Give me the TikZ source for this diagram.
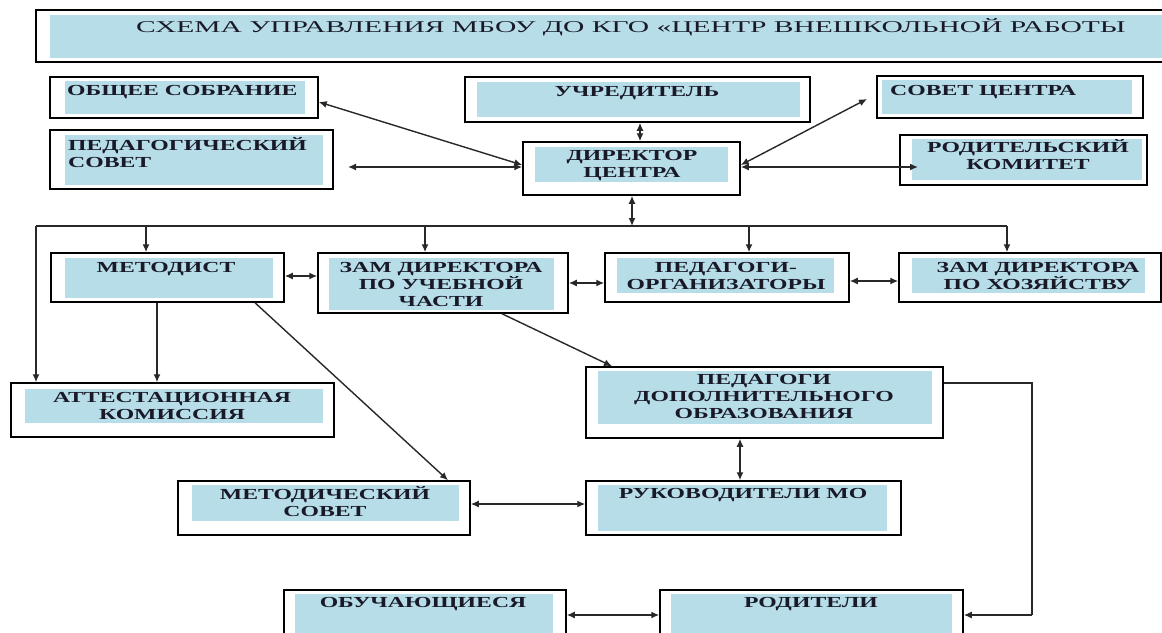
\documentclass[tikz,border=0pt]{standalone}
\usepackage{fontspec}
\setmainfont{Liberation Serif}
\newfontfamily\lblfont[FakeStretch=1.55]{Liberation Serif}
\newfontfamily\ttlfont[FakeStretch=1.79]{Liberation Serif}
\usetikzlibrary{arrows.meta}
\definecolor{boxblue}{RGB}{183,221,232}
\definecolor{lineg}{RGB}{40,40,40}
\definecolor{txt}{RGB}{25,25,40}
\tikzset{
  obox/.style={draw=black, line width=1.5pt, fill=white, inner sep=0pt},
  conn/.style={draw=lineg, line width=1.4pt},
  ah/.tip={Latex[length=8pt,width=7pt]},
  ar/.style={conn, -ah},
  dar/.style={conn, ah-ah},
  lbl/.style={font=\lblfont\bfseries\fontsize{15.3}{17}\selectfont, inner sep=0pt, align=center, text=txt},
  ttl/.style={font=\ttlfont\fontsize{16.5}{20}\selectfont, inner sep=0pt, text=txt},
}
\newcommand\ubox[9]{%
  \node[obox, minimum width={#4-#2}, minimum height={#5-#3}] (#1) at ({(#2+#4)/2},{(#3+#5)/2}) {};
  \fill[boxblue] (#6,#7) rectangle (#8,#9);}
\begin{document}
\begin{tikzpicture}[x=1pt,y=-1pt]
\useasboundingbox (0,0) rectangle (1162,632);
\clip (0,0) rectangle (1162,632);
% boxes
\ubox{title}{36}{10}{1175}{62}{50}{15}{1175}{58}
\ubox{obs}{50}{77}{318}{118}{65}{81}{305}{114}
\ubox{ped}{50}{130}{333}{189}{65}{135}{323}{185}
\ubox{uch}{465}{77}{810}{122}{477}{82}{800}{117}
\ubox{dir}{523}{142}{740}{195}{535}{147}{728}{182}
\ubox{sov}{877}{76}{1143}{118}{882}{80}{1132}{114}
\ubox{rod}{900}{135}{1147}{185}{912}{139}{1142}{180}
\ubox{met}{51}{253}{284}{302}{65}{258}{273}{298}
\ubox{zam}{318}{253}{568}{313}{329}{258}{554}{310}
\ubox{porg}{605}{253}{849}{302}{617}{258}{834}{293}
\ubox{zhoz}{899}{253}{1161}{302}{912}{258}{1145}{293}
\ubox{att}{11}{383}{334}{437}{25}{389}{323}{423}
\ubox{pdop}{586}{367}{943}{438}{598}{371}{932}{424}
\ubox{msov}{178}{481}{470}{535}{192}{485}{459}{521}
\ubox{ruk}{586}{481}{901}{535}{598}{485}{887}{531}
\ubox{obu}{284}{590}{566}{650}{295}{594}{553}{650}
\ubox{rodi}{660}{590}{963}{650}{671}{594}{952}{650}
% texts (anchor=base is the baseline of the last line)
\node[ttl, anchor=base] (ttitle) at (631,32) {СХЕМА УПРАВЛЕНИЯ МБОУ ДО КГО «ЦЕНТР ВНЕШКОЛЬНОЙ РАБОТЫ};
\node[lbl, anchor=base west] (tobs) at (67,95) {ОБЩЕЕ СОБРАНИЕ};
\node[lbl, anchor=base west, align=left] (tped) at (68,167) {ПЕДАГОГИЧЕСКИЙ\\СОВЕТ};
\node[lbl, anchor=base] (tuch) at (637,96) {УЧРЕДИТЕЛЬ};
\node[lbl, anchor=base] (tdir) at (632,177) {ДИРЕКТОР\\ЦЕНТРА};
\node[lbl, anchor=base west] (tsov) at (890,95) {СОВЕТ ЦЕНТРА};
\node[lbl, anchor=base] (trod) at (1028,169) {РОДИТЕЛЬСКИЙ\\КОМИТЕТ};
\node[lbl, anchor=base] (tmet) at (166,272) {МЕТОДИСТ};
\node[lbl, anchor=base] (tzam) at (441,306) {ЗАМ ДИРЕКТОРА\\ПО УЧЕБНОЙ\\ЧАСТИ};
\node[lbl, anchor=base] (tporg) at (726,289) {ПЕДАГОГИ-\\ОРГАНИЗАТОРЫ};
\node[lbl, anchor=base] (tzhoz) at (1038,289) {ЗАМ ДИРЕКТОРА\\ПО ХОЗЯЙСТВУ};
\node[lbl, anchor=base] (tatt) at (172,419) {АТТЕСТАЦИОННАЯ\\КОМИССИЯ};
\node[lbl, anchor=base] (tpdop) at (764,418) {ПЕДАГОГИ\\ДОПОЛНИТЕЛЬНОГО\\ОБРАЗОВАНИЯ};
\node[lbl, anchor=base] (tmsov) at (325,516) {МЕТОДИЧЕСКИЙ\\СОВЕТ};
\node[lbl, anchor=base] (truk) at (743,498) {РУКОВОДИТЕЛИ МО};
\node[lbl, anchor=base] (tobu) at (423,607) {ОБУЧАЮЩИЕСЯ};
\node[lbl, anchor=base] (trodi) at (811,607) {РОДИТЕЛИ};
% free-end coordinates
\coordinate (pedL) at (348,167);
\coordinate (sovP) at (867,99);
\coordinate (rodP) at (918,167);
\coordinate (busL) at (36,226);
\coordinate (busR) at (1007,226);
\coordinate (busD) at (632,226);
\coordinate (cR1) at (1032,383);
\coordinate (cR2) at (1032,615);
% connectors around director
\draw[dar] (dir.west |- 0,165) -- (obs.east |- 0,102);
\draw[dar] (pedL) -- (dir.west |- 0,167);
\draw[dar] (640,0 |- uch.south) -- (640,0 |- dir.north);
\draw[dar] (dir.east |- 0,165) -- (sovP);
\draw[dar] (dir.east |- 0,167) -- (rodP);
\draw[dar] (632,0 |- dir.south) -- (busD);
% bus
\draw[conn] (busL) -- (busR);
\draw[ar] (busL) -- (36,0 |- att.north);
\draw[ar] (146,226) -- (146,0 |- met.north);
\draw[ar] (425,226) -- (425,0 |- zam.north);
\draw[ar] (749,226) -- (749,0 |- porg.north);
\draw[ar] (busR) -- (1007,0 |- zhoz.north);
% middle row
\draw[dar] (met.east |- 0,276) -- (zam.west |- 0,276);
\draw[dar] (zam.east |- 0,283) -- (porg.west |- 0,283);
\draw[dar] (porg.east |- 0,281) -- (zhoz.west |- 0,281);
% lower
\draw[ar] (157,0 |- met.south) -- (157,0 |- att.north);
\draw[ar] (255,0 |- met.south) -- (448,0 |- msov.north);
\draw[ar] (502,0 |- zam.south) -- (612,0 |- pdop.north);
\draw[dar] (740,0 |- pdop.south) -- (740,0 |- ruk.north);
\draw[dar] (msov.east |- 0,504) -- (ruk.west |- 0,504);
\draw[conn] (pdop.east |- cR1) -- (cR1) -- (cR2);
\draw[ar] (cR2) -- (rodi.east |- cR2);
\draw[dar] (obu.east |- 0,615) -- (rodi.west |- 0,615);
\end{tikzpicture}
\end{document}
